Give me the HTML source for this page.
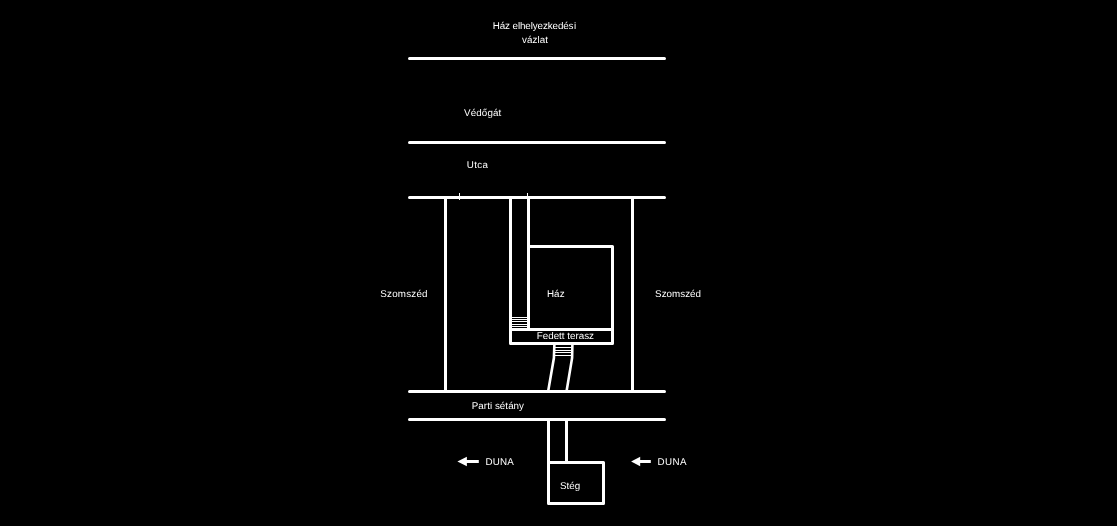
<!DOCTYPE html>
<html>
<head>
<meta charset="utf-8">
<style>
html,body{margin:0;padding:0;background:#000;width:1117px;height:526px;overflow:hidden;}
svg{display:block;will-change:transform;}
text{font-family:"Liberation Sans",sans-serif;font-size:9.8px;fill:#fff;text-rendering:geometricPrecision;}
</style>
</head>
<body>
<svg width="1117" height="526" viewBox="0 0 1117 526">
<rect x="0" y="0" width="1117" height="526" fill="#000"/>
<g fill="none" stroke="#fff" stroke-width="3" stroke-linecap="round" stroke-linejoin="round">
<path d="M409.5 58.5H664.5M409.5 142.5H664.5M409.5 197.5H664.5M409.5 391.5H664.5M409.5 419.5H664.5"/>
<path d="M445.5 197.5V391.5M632.5 197.5V391.5"/>
<path d="M510.5 197.5V343.5H612.5V246.5H528.5"/>
<path d="M528.5 197.5V329.5M510.5 329.5H612.5"/>
<path d="M548.5 419.5V503.5H603.5V462.5H548.5M566.5 419.5V462.5"/>
</g>
<g fill="#fff">
<!-- ticks -->
<rect x="459" y="193" width="1" height="7"/>
<rect x="527" y="193" width="1" height="3"/>
<!-- corridor stairs -->
<rect x="512" y="317" width="15" height="1"/>
<rect x="512" y="319" width="15" height="1"/>
<rect x="512" y="321" width="15" height="1"/>
<rect x="512" y="324" width="15" height="1"/>
<rect x="512" y="326" width="15" height="1"/>
<!-- stair treads below terrace -->
<rect x="555" y="347" width="17" height="1"/>
<rect x="555" y="350" width="17" height="1"/>
<rect x="555" y="352" width="17" height="1"/>
<rect x="555" y="355" width="17" height="1"/>
<!-- arrows -->
<polygon points="457.4,461.5 466.9,456.8 466.9,466.2"/>
<rect x="465" y="460" width="13.8" height="3"/>
<polygon points="631.1,461.5 640.2,456.8 640.2,466.2"/>
<rect x="638" y="460" width="12.8" height="3"/>
</g>
<g fill="none" stroke="#fff" stroke-width="2.6">
<polyline points="554.4,344 553.9,358 548.2,391"/>
<polyline points="572.4,344 572.1,358 566.6,391"/>
</g>
<text x="492.75" y="28.90" textLength="80.75">Ház elhelyezkedés</text>
<text x="573.89" y="28.90" textLength="2.19">i</text>
<text x="522.00" y="42.80" textLength="25.89">vázlat</text>
<text x="464.02" y="115.90" textLength="37.24">Védőgát</text>
<text x="466.79" y="167.70" textLength="21.17">Utca</text>
<text x="380.36" y="296.80" textLength="47.17">Szomszéd</text>
<text x="655.10" y="296.80" textLength="45.91">Szomszéd</text>
<text x="546.98" y="296.70" textLength="17.56">Ház</text>
<text x="536.79" y="339.20" textLength="57.15">Fedett terasz</text>
<text x="471.79" y="408.50" textLength="52.23">Parti sétány</text>
<text x="559.97" y="488.60" textLength="20.23">Stég</text>
<text x="485.46" y="464.70" textLength="28.23">DUNA</text>
<text x="657.40" y="465.00" textLength="29.09">DUNA</text>
</svg>
</body>
</html>
